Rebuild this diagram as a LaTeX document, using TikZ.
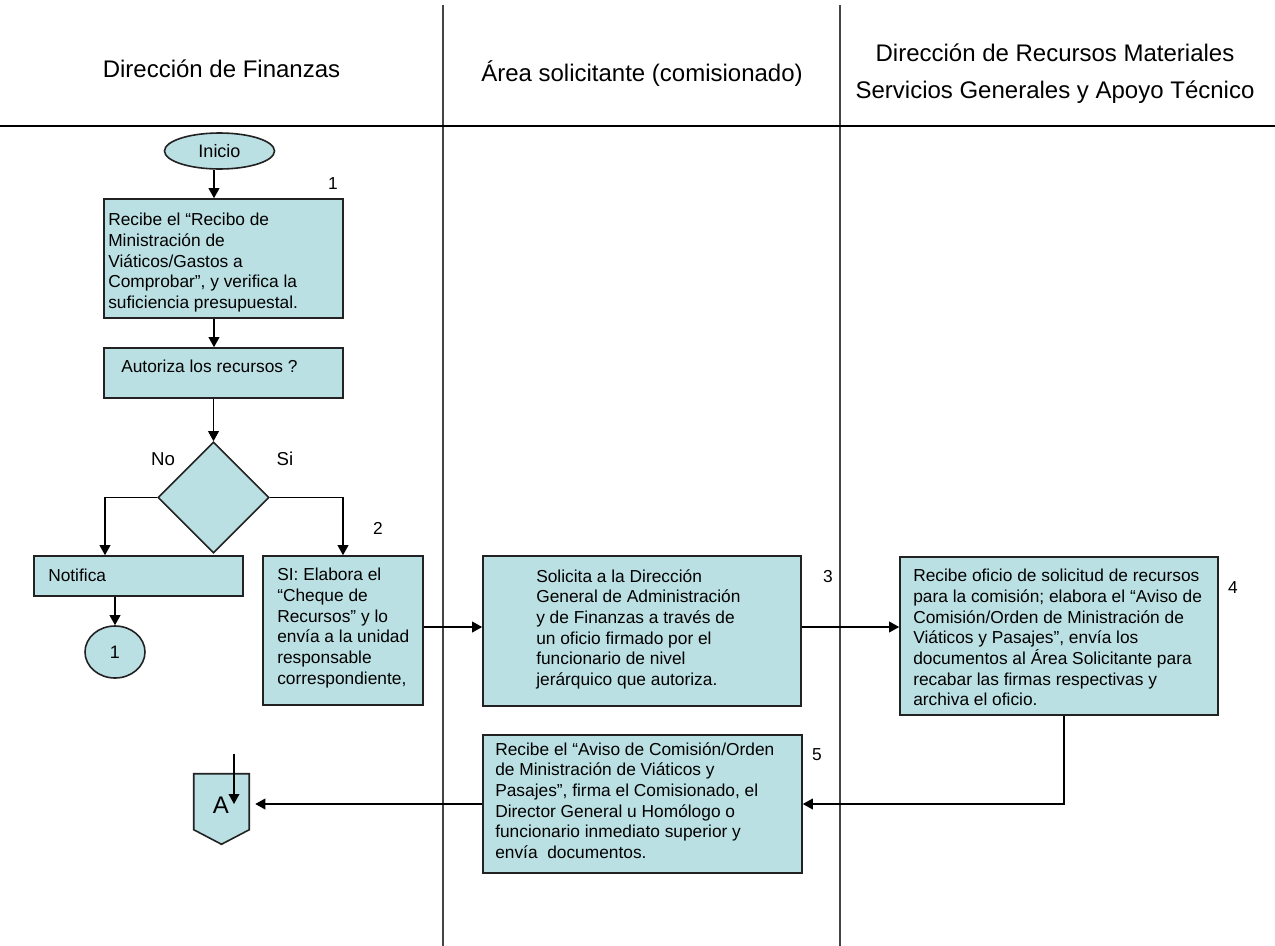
\documentclass[tikz,border=0pt]{standalone}
\usepackage{fontspec}
\setmainfont{Liberation Sans}
\usetikzlibrary{shapes.geometric,arrows.meta,fit,calc}

\definecolor{boxfill}{HTML}{BBE0E3}
\definecolor{edge}{HTML}{222222}
\definecolor{lane}{HTML}{444444}

\tikzset{
  box/.style={draw=edge, line width=1.2pt, fill=boxfill, inner sep=0pt},
  txt/.style={font=\fontsize{13}{15.5}\selectfont, align=left, inner sep=0pt, anchor=north west},
  head/.style={font=\fontsize{18}{27}\selectfont, inner sep=0pt, anchor=base},
  num/.style={font=\fontsize{13}{15.5}\selectfont, inner sep=0pt},
  arr/.style={line width=1.1pt, draw=black, -{Triangle[length=7.5pt,width=8pt]}},
  lanes/.style={line width=1.1pt, draw=lane}
}

\begin{document}
\begin{tikzpicture}[x=0.75pt, y=-0.75pt]
  % canvas
  \path[fill=white, use as bounding box] (0,0) rectangle (1275,946);

  % swimlane frame
  \coordinate (l1t) at (443,5);  \coordinate (l1b) at (443,946);
  \coordinate (l2t) at (840,5);  \coordinate (l2b) at (840,946);
  \coordinate (hl) at (0,126);   \coordinate (hr) at (1275,126);
  \draw[lanes] (l1t) -- (l1b);
  \draw[lanes] (l2t) -- (l2b);
  \draw[line width=1.1pt, draw=black] (hl) -- (hr);

  % lane headings
  \node[head] (h1)  at (221.5,77) {Dirección de Finanzas};
  \node[head] (h2)  at (642,81)   {Área solicitante (comisionado)};
  \node[head] (h3a) at (1055,61)  {Dirección de Recursos Materiales};
  \node[head] (h3b) at (1055,98)  {Servicios Generales y Apoyo Técnico};

  % start
  \node[ellipse, box, minimum width=82.5pt, minimum height=27pt,
        font=\fontsize{13.5}{16}\selectfont] (ini) at (219.5,151) {Inicio};

  % step 1
  \node[box, fit={(104,199) (343,318)}] (b1) {};
  \node[txt] (t1) at (108,213) {Recibe el “Recibo de\\Ministración de\\Viáticos/Gastos a\\Comprobar”, y verifica la\\suficiencia presupuestal.};
  \node[num] (n1) at (333,184) {1};

  \node[box, fit={(104,348) (343,398)}] (b2) {};
  \node[txt] (t2) at (121,360) {Autoriza los recursos ?};

  % decision
  \node[diamond, box, minimum width=83.25pt, minimum height=83.25pt] (dia) at (213.5,497.5) {};
  \node[num, font=\fontsize{14}{16}\selectfont] (no) at (163,459) {No};
  \node[num, font=\fontsize{14}{16}\selectfont] (si) at (285,459) {Si};

  % negative branch
  \node[box, fit={(34,556) (243,596)}] (nt) {};
  \node[txt] (tnt) at (48,569) {Notifica};
  \node[ellipse, box, minimum width=45pt, minimum height=39pt,
        font=\fontsize{13.5}{16}\selectfont] (c1) at (115,652) {1};

  % step 2
  \node[box, fit={(263,556) (423,705)}] (b3) {};
  \node[txt] (t3) at (277,568) {SI: Elabora el\\“Cheque de\\Recursos” y lo\\envía a la unidad\\responsable\\correspondiente,};
  \node[num] (n2) at (378,528) {2};

  % step 3
  \node[box, fit={(483,556) (801,706)}] (b4) {};
  \node[txt] (t4) at (536,569) {Solicita a la Dirección\\General de Administración\\y de Finanzas a través de\\un oficio firmado por el\\funcionario de nivel\\jerárquico que autoriza.};
  \node[num] (n3) at (828,577) {3};

  % step 4
  \node[box, fit={(900,557) (1218,715)}] (b5) {};
  \node[txt] (t5) at (913,569) {Recibe oficio de solicitud de recursos\\para la comisión; elabora el “Aviso de\\Comisión/Orden de Ministración de\\Viáticos y Pasajes”, envía los\\documentos al Área Solicitante para\\recabar las firmas respectivas y\\archiva el oficio.};
  \node[num] (n4) at (1233,588) {4};

  % step 5
  \node[box, fit={(483,735) (802,873)}] (b6) {};
  \node[txt] (t6) at (495,742) {Recibe el “Aviso de Comisión/Orden\\de Ministración de Viáticos y\\Pasajes”, firma el Comisionado, el\\Director General u Homólogo o\\funcionario inmediato superior y\\envía\ \ documentos.};
  \node[num] (n5) at (817,755) {5};

  % off-page connector A
  \node[minimum width=41.25pt, minimum height=52.5pt, inner sep=0pt] (pA) at (221.5,809) {};
  \draw[box] (pA.north west) -- (pA.north east) -- ($(pA.north east)+(0,56)$)
             -- (pA.south) -- ($(pA.north west)+(0,56)$) -- cycle;
  \node[num, font=\fontsize{18}{20}\selectfont] (lA) at (221,805) {A};

  % connectors
  \coordinate (xa) at (214,0);
  \coordinate (xn) at (105,0);
  \coordinate (xs) at (343,0);
  \coordinate (xd) at (1064,0);
  \coordinate (yr) at (0,627);
  \coordinate (ain) at (234,754);

  \draw[arr] (ini.south -| xa) -- (b1.north -| xa);
  \draw[arr] (b1.south -| xa) -- (b2.north -| xa);
  \draw[arr] (b2.south -| dia.north) -- (dia.north);
  \draw[arr] (dia.west) -| (nt.north -| xn);
  \draw[arr] (dia.east) -| (b3.north -| xs);
  \draw[arr] (nt.south -| c1.north) -- (c1.north);
  \draw[arr] (b3.east |- yr) -- (b4.west |- yr);
  \draw[arr] (b4.east |- yr) -- (b5.west |- yr);
  \draw[arr] (b5.south -| xd) |- (b6.east);
  \draw[arr, shorten >=4.5pt] (b6.west) -- (b6.west -| pA.east);
  \draw[arr] (ain) -- (ain |- b6.west);
\end{tikzpicture}
\end{document}
